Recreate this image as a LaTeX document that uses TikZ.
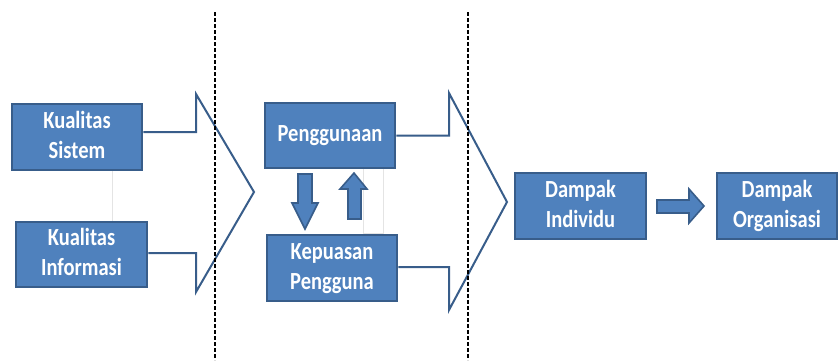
\documentclass[tikz,border=0pt]{standalone}
\usepackage{fontspec}
\setmainfont{Carlito}
\usepackage{graphicx}
\definecolor{boxfill}{HTML}{4F81BD}
\definecolor{boxline}{HTML}{385D8A}
\definecolor{faint}{HTML}{E4E4E4}
\newcommand\lbl[1]{\scalebox{1}[1.2]{\begin{tabular}{@{}c@{}}#1\end{tabular}}}
\tikzset{
  blockbox/.style={draw=boxline, fill=boxfill, line width=2.5pt, inner sep=0pt,
    text=white, font=\fontsize{20.5}{25}\selectfont\bfseries},
  chev/.style={draw=boxline, line width=2pt, line join=miter},
  blockarrow/.style={draw=boxline, fill=boxfill, line width=1.6pt, line join=miter},
  sepline/.style={black, line width=1.3pt, dash pattern=on 4pt off 2pt},
  faintline/.style={faint, line width=0.6pt}
}
\begin{document}
\begin{tikzpicture}[x=1pt,y=-1pt]
\useasboundingbox[fill=white] (0,0) rectangle (839,360);
% faint artefact lines
\draw[faintline] (112,170) -- (112,222);
\draw[faintline] (363,168) rectangle (383,233);
% separators
\coordinate (s1t) at (215,12); \coordinate (s1b) at (215,360);
\coordinate (s2t) at (468,12); \coordinate (s2b) at (468,360);
% boxes
\node[blockbox, minimum width=130pt, minimum height=66pt] (ks) at (77,137) {\lbl{Kualitas\\Sistem}};
\node[blockbox, minimum width=131pt, minimum height=65pt] (ki) at (81.5,254.5) {\lbl{Kualitas\\Informasi}};
\node[blockbox, minimum width=130pt, minimum height=65pt] (pg) at (330,135.5) {\lbl{Penggunaan}};
\node[blockbox, minimum width=130pt, minimum height=66pt] (kp) at (332,268) {\lbl{Kepuasan\\Pengguna}};
\node[blockbox, minimum width=131pt, minimum height=66pt] (di) at (580.5,206) {\lbl{Dampak\\Individu}};
\node[blockbox, minimum width=120pt, minimum height=66pt] (do) at (777,206) {\lbl{Dampak\\Organisasi}};
% chevron 1
\coordinate (c1a) at (196,132);
\coordinate (c1top) at (196,94);
\coordinate (c1tip) at (254,192);
\coordinate (c1bot) at (196,292);
\coordinate (c1b) at (196,253);
\draw[chev] ([yshift=5pt]ks.east) -- (c1a) -- (c1top) -- (c1tip) -- (c1bot) -- (c1b) -- (c1b -| ki.east);
% chevron 2
\coordinate (c2a) at (449,135.5);
\coordinate (c2top) at (449,93);
\coordinate (c2tip) at (507,202);
\coordinate (c2bot) at (449,310);
\coordinate (c2b) at (449,267);
\draw[chev] (pg.east) -- (c2a) -- (c2top) -- (c2tip) -- (c2bot) -- (c2b) -- (c2b -| kp.east);
% separators drawn over
\draw[sepline] (s1t) -- (s1b);
\draw[sepline] (s2t) -- (s2b);
% block arrows
\draw[blockarrow] (298,174) -- (312,174) -- (312,203) -- (318,203) -- (305,229) -- (292,203) -- (298,203) -- cycle;
\draw[blockarrow] (348,219) -- (361,219) -- (361,189) -- (367,189) -- (354,173) -- (340,189) -- (348,189) -- cycle;
\draw[blockarrow] (657,200) -- (689,200) -- (689,189) -- (704,206) -- (689,223) -- (689,213) -- (657,213) -- cycle;
\end{tikzpicture}
\end{document}
